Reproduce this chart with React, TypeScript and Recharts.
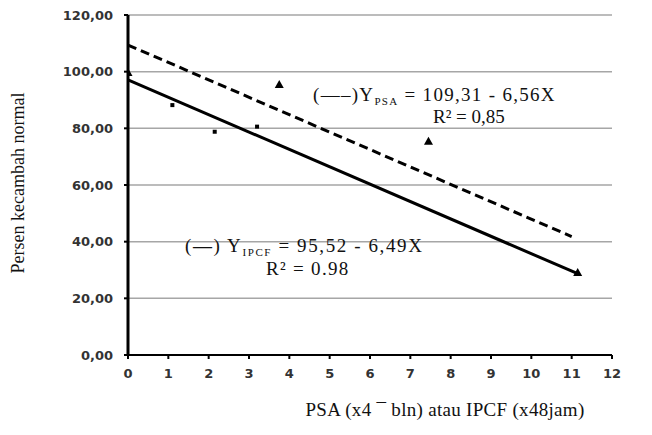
import React from 'react';
import {
  ComposedChart,
  Line,
  Scatter,
  XAxis,
  YAxis,
  CartesianGrid,
  Customized
} from 'recharts';

const psaPoints = [
  { x: 0, y: 99.5 },
  { x: 3.75, y: 95.3 },
  { x: 7.45, y: 75.3 },
  { x: 11.15, y: 28.9 }
];

const ipcfPoints = [
  { x: 1.1, y: 88.2 },
  { x: 2.15, y: 78.8 },
  { x: 3.2, y: 80.6 }
];

// trend lines as drawn
const psaTrend = [
  { x: 0, y: 109.4 },
  { x: 11.0, y: 41.8 }
];

const ipcfTrend = [
  { x: 0, y: 97.1 },
  { x: 11.15, y: 28.7 }
];

const xTicks = [0, 1, 2, 3, 4, 5, 6, 7, 8, 9, 10, 11, 12];
const yTicks = [0, 20, 40, 60, 80, 100, 120];

const serif = '"Liberation Serif", "Times New Roman", serif';
const sans = '"DejaVu Sans", Verdana, sans-serif';

const Triangle = (props: any) => {
  const { cx, cy } = props;
  if (cx == null || cy == null) return null;
  return <polygon points={`${cx},${cy - 5} ${cx + 4.5},${cy + 3} ${cx - 4.5},${cy + 3}`} fill="#000" />;
};

const Square = (props: any) => {
  const { cx, cy } = props;
  if (cx == null || cy == null) return null;
  return <rect x={cx - 2} y={cy - 2} width={4} height={4} fill="#000" />;
};

const Annotations = () => (
  <g fontFamily={serif} fill="#111">
    <text x={313} y={101} fontSize={19} letterSpacing={1.3}>
      (—–)Y<tspan fontSize={11} dy={4}>PSA</tspan>
      <tspan dy={-4}> = 109,31 - 6,56X</tspan>
    </text>
    <text x={433} y={123} fontSize={19}>
      R² = 0,85
    </text>
    <text x={185} y={252} fontSize={19} letterSpacing={1.6}>
      (<tspan fontWeight="bold">—</tspan>) Y<tspan fontSize={11} dy={4}>IPCF</tspan>
      <tspan dy={-4}> =  95,52 - 6,49X</tspan>
    </text>
    <text x={266} y={275} fontSize={19} letterSpacing={1.3}>
      R² = 0.98
    </text>
    <text x={445} y={416} fontSize={19} textAnchor="middle" letterSpacing={0.3}>
      PSA (x4 ¯ bln) atau IPCF (x48jam)
    </text>
    <text
      x={0}
      y={0}
      fontSize={18}
      textAnchor="middle"
      transform="translate(24,183) rotate(-90)"
    >
      Persen kecambah normal
    </text>
  </g>
);

const App = () => {
  return (
    <div style={{ position: 'absolute', left: 0, top: 0, background: '#fff' }}>
      <ComposedChart
        width={652}
        height={435}
        margin={{ top: 15, right: 40, bottom: 50, left: 0 }}
      >
        <CartesianGrid vertical={false} stroke="#a6a6a6" strokeWidth={1.5} />
        <XAxis
          type="number"
          dataKey="x"
          domain={[0, 12]}
          ticks={xTicks}
          allowDataOverflow
          height={30}
          tickSize={4}
          tickMargin={10}
          stroke="#000"
          axisLine={{ stroke: '#000', strokeWidth: 2 }}
          tickLine={{ stroke: '#000', strokeWidth: 2 }}
          tick={{ fontFamily: sans, fontSize: 13, fontWeight: 'bold', fill: '#333' }}
        />
        <YAxis
          type="number"
          dataKey="y"
          domain={[0, 120]}
          ticks={yTicks}
          width={128}
          tickSize={4}
          tickMargin={11}
          axisLine={{ stroke: '#000', strokeWidth: 3 }}
          tickLine={{ stroke: '#000', strokeWidth: 2 }}
          tick={{ fontFamily: sans, fontSize: 13, fontWeight: 'bold', fill: '#333' }}
          tickFormatter={(v: number) => v.toFixed(2).replace('.', ',')}
        />
        <Line
          data={psaTrend}
          dataKey="y"
          stroke="#000"
          strokeWidth={3}
          strokeDasharray="9 5"
          dot={false}
          isAnimationActive={false}
        />
        <Line
          data={ipcfTrend}
          dataKey="y"
          stroke="#000"
          strokeWidth={3}
          dot={false}
          isAnimationActive={false}
        />
        <Scatter data={psaPoints} dataKey="y" shape={Triangle} isAnimationActive={false} />
        <Scatter data={ipcfPoints} dataKey="y" shape={Square} isAnimationActive={false} />
        <Customized component={Annotations} />
      </ComposedChart>
    </div>
  );
};

export default App;
